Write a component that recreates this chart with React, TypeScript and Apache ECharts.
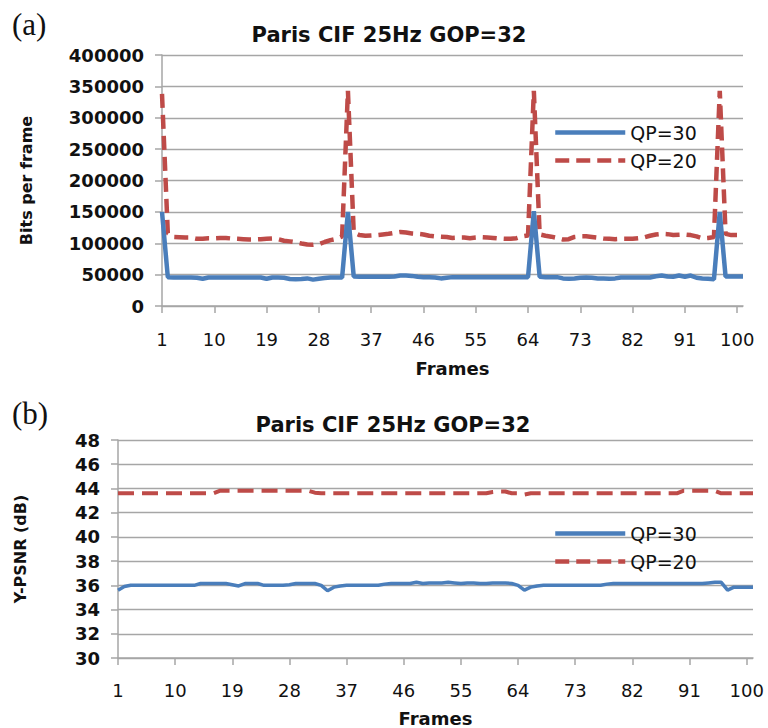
import React, { useEffect, useRef } from "react";
import * as echarts from "echarts";

const frames: string[] = Array.from({ length: 101 }, (_, i) => String(i + 1));

const bitsQP30: number[] = [150000,
  46000, 45500, 45500, 45500, 45500, 45000, 43500, 45500, 45500, 45500,
  45500, 45500, 45500, 45500, 45500, 45500, 45500, 43500, 45500, 45500,
  45000, 43000, 42500, 43000, 44000, 42000, 43500, 44500, 45500, 45500,
  45500, 150000, 47000, 46500, 46500, 46500, 46500, 46500, 46500, 47000,
  48500, 48500, 48000, 46500, 46000, 46000, 45500, 44000, 45000, 46000,
  46000, 46000, 46000, 46000, 46000, 46000, 46000, 46000, 46000, 46000,
  46000, 46000, 46000, 151000, 46500, 46000, 46000, 46000, 44000, 43500,
  44000, 45000, 45500, 45000, 44000, 44000, 43500, 44000, 45500, 45500,
  45500, 45500, 45500, 45500, 47500, 48500, 47000, 46500, 48500, 46500,
  48500, 45000, 44000, 43500, 42500, 150000, 47000, 47000, 47000, 47000];

const bitsQP20: number[] = [338000,
  116000, 110000, 109500, 109000, 109000, 107000, 107000, 108000, 108000, 108500,
  108500, 107500, 107000, 106500, 106000, 106000, 106500, 107000, 107500, 106500,
  104000, 103000, 101500, 99500, 98000, 97500, 98500, 102000, 105000, 107000,
  111000, 343000, 117000, 113000, 112000, 112500, 113000, 114000, 115000, 116500,
  118000, 117000, 115500, 115000, 114000, 112000, 111000, 110500, 110000, 108500,
  109000, 109000, 108000, 109000, 109500, 109000, 108500, 107500, 107000, 107000,
  108000, 111000, 112500, 343000, 114000, 112000, 110500, 108500, 106000, 106500,
  110000, 111000, 111000, 110000, 109000, 107500, 107000, 106500, 107000, 107000,
  107000, 108000, 109500, 112000, 114000, 115000, 114500, 113000, 113500, 114000,
  113000, 111000, 108000, 108500, 110000, 343000, 115000, 113000, 113000, 112500];

const psnrQP30: number[] = [35.6,
  35.9, 36.0, 36.0, 36.0, 36.0, 36.0, 36.0, 36.0, 36.0, 36.0,
  36.0, 36.0, 36.15, 36.15, 36.15, 36.15, 36.15, 36.05, 35.95, 36.15,
  36.15, 36.15, 36.0, 36.0, 36.0, 36.0, 36.05, 36.15, 36.15, 36.15,
  36.15, 36.0, 35.55, 35.85, 35.95, 36.0, 36.0, 36.0, 36.0, 36.0,
  36.0, 36.1, 36.15, 36.15, 36.15, 36.15, 36.25, 36.15, 36.2, 36.2,
  36.2, 36.25, 36.2, 36.15, 36.2, 36.2, 36.15, 36.15, 36.2, 36.2,
  36.2, 36.15, 36.0, 35.6, 35.85, 35.95, 36.0, 36.0, 36.0, 36.0,
  36.0, 36.0, 36.0, 36.0, 36.0, 36.0, 36.1, 36.15, 36.15, 36.15,
  36.15, 36.15, 36.15, 36.15, 36.15, 36.15, 36.15, 36.15, 36.15, 36.15,
  36.15, 36.15, 36.2, 36.25, 36.25, 35.6, 35.85, 35.85, 35.85, 35.85];

const psnrQP20: number[] = [
  43.6, 43.6, 43.6, 43.6, 43.6, 43.6, 43.6, 43.6, 43.6, 43.6,
  43.6, 43.6, 43.6, 43.6, 43.6, 43.6, 43.8, 43.8, 43.8, 43.8,
  43.8, 43.8, 43.8, 43.8, 43.8, 43.8, 43.8, 43.8, 43.8, 43.8,
  43.8, 43.65, 43.6, 43.6, 43.6, 43.6, 43.6, 43.6, 43.6, 43.6,
  43.6, 43.6, 43.6, 43.6, 43.6, 43.6, 43.6, 43.6, 43.6, 43.6,
  43.6, 43.6, 43.6, 43.6, 43.6, 43.6, 43.6, 43.6, 43.6, 43.7,
  43.75, 43.75, 43.6, 43.6, 43.5, 43.6, 43.6, 43.6, 43.6, 43.6,
  43.6, 43.6, 43.6, 43.6, 43.6, 43.6, 43.6, 43.6, 43.6, 43.6,
  43.6, 43.6, 43.6, 43.6, 43.6, 43.6, 43.6, 43.6, 43.6, 43.8,
  43.8, 43.8, 43.8, 43.8, 43.8, 43.6, 43.6, 43.6, 43.6, 43.6,
  43.6];

const seriesNames = ["QP=30", "QP=20"];
const titleText = "Paris CIF 25Hz GOP=32";

const BLUE = "#4A7EBB";
const RED = "#BE4B48";
const GRID = "#A6A6A6";
const FONT = "DejaVu Sans";

export default function App() {
  const ref = useRef<HTMLDivElement>(null);
  useEffect(() => {
    if (!ref.current) return;
    const chart = echarts.init(ref.current, null, { renderer: "svg" });
    const xAxisCommon = (name: string, margin: number, gap: number) => ({
      type: "category",
      data: frames,
      boundaryGap: false,
      name,
      nameLocation: "middle",
      nameGap: gap,
      nameTextStyle: { fontFamily: FONT, fontWeight: "bold", fontSize: 18, color: "#111" },
      axisLine: { lineStyle: { color: GRID, width: 1.5 } },
      axisTick: { show: true, interval: 8, length: 7, lineStyle: { color: GRID, width: 1.5 } },
      axisLabel: { interval: 8, margin, fontFamily: FONT, fontSize: 18, color: "#111" },
      splitLine: { show: false },
    });
    const yAxisCommon = (name: string, min: number, max: number, interval: number, gap: number) => ({
      type: "value",
      min,
      max,
      interval,
      name,
      nameLocation: "middle",
      nameGap: gap,
      nameRotate: 90,
      nameTextStyle: { fontFamily: FONT, fontWeight: "bold", fontSize: 16, color: "#111" },
      axisLine: { show: true, lineStyle: { color: GRID, width: 1.5 } },
      axisTick: { show: true, length: 7, lineStyle: { color: GRID, width: 1.5 } },
      axisLabel: { margin: 18, fontFamily: FONT, fontSize: 18, fontWeight: "bold", color: "#111",
        formatter: (v: number) => String(v) },
      splitLine: { show: true, lineStyle: { color: GRID, width: 1.3 } },
    });
    const legendCommon = (top: number) => ({
      data: seriesNames,
      orient: "vertical",
      left: 548,
      top,
      itemWidth: 70,
      itemHeight: 14,
      itemGap: 9,
      itemStyle: { opacity: 0 },
      lineStyle: { width: 4.5 },
      textStyle: { fontFamily: FONT, fontSize: 19, color: "#111" },
    });
    chart.setOption({
      animation: false,
      backgroundColor: "#fff",
      title: [
        { text: titleText, left: 384, top: 19, textAlign: "center",
          textStyle: { fontFamily: FONT, fontWeight: "bold", fontSize: 21, color: "#111" } },
        { text: titleText, left: 388, top: 409, textAlign: "center",
          textStyle: { fontFamily: FONT, fontWeight: "bold", fontSize: 21, color: "#111" } },
      ],
      graphic: [
        { type: "text", left: 12, top: 9, style: { text: "(a)", font: "31px 'Liberation Serif'", fill: "#111" } },
        { type: "text", left: 12, top: 398, style: { text: "(b)", font: "31px 'Liberation Serif'", fill: "#111" } },
      ],
      legend: [legendCommon(118), legendCommon(519)],
      grid: [
        { left: 162, right: 25, top: 55, height: 251 },
        { left: 118, right: 15, top: 440, height: 225 },
      ],
      xAxis: [
        { ...xAxisCommon("Frames", 24, 53), gridIndex: 0 },
        { ...xAxisCommon("Frames", 23, 51), gridIndex: 1 },
      ],
      yAxis: [
        { ...yAxisCommon("Bits per frame", 0, 400000, 50000, 128), gridIndex: 0 },
        { ...yAxisCommon("Y-PSNR (dB)", 30, 48, 2, 90), gridIndex: 1 },
      ],
      series: [
        { name: "QP=30", type: "line", xAxisIndex: 0, yAxisIndex: 0, data: bitsQP30, symbol: "none",
          lineStyle: { color: BLUE, width: 4.5 }, itemStyle: { color: BLUE }, z: 3 },
        { name: "QP=20", type: "line", xAxisIndex: 0, yAxisIndex: 0, data: bitsQP20, symbol: "none",
          lineStyle: { color: RED, width: 4.5, type: [14, 7] }, itemStyle: { color: RED }, z: 2 },
        { name: "QP=30", type: "line", xAxisIndex: 1, yAxisIndex: 1, data: psnrQP30, symbol: "none",
          lineStyle: { color: BLUE, width: 3.5 }, itemStyle: { color: BLUE }, z: 3 },
        { name: "QP=20", type: "line", xAxisIndex: 1, yAxisIndex: 1, data: psnrQP20, symbol: "none",
          lineStyle: { color: RED, width: 4, type: [16, 8] }, itemStyle: { color: RED }, z: 2 },
      ],
    });
    return () => chart.dispose();
  }, []);
  return (
    <div
      ref={ref}
      style={{ position: "fixed", left: 0, top: 0, width: 768, height: 728, background: "#fff" }}
    />
  );
}
